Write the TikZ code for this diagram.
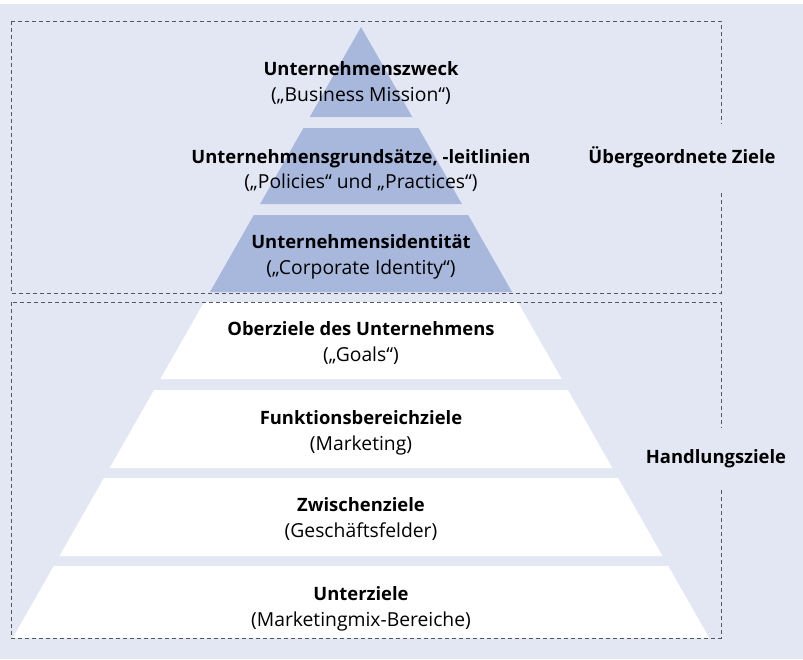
\documentclass[tikz,border=0pt]{standalone}
\usepackage{fontspec}
\setmainfont{Open Sans}
\definecolor{bgc}{RGB}{227,231,243}
\definecolor{bluec}{RGB}{168,184,220}
\definecolor{dashc}{RGB}{85,85,90}
\begin{document}
\begin{tikzpicture}[x=1pt,y=-1pt,
  ttl/.style={anchor=base,font=\fontsize{18.4}{22}\selectfont\bfseries,inner sep=0pt},
  sub/.style={anchor=base,font=\fontsize{19.3}{22}\selectfont,inner sep=0pt},
  side/.style={font=\fontsize{18.4}{22}\selectfont\bfseries,fill=bgc,inner xsep=2pt,inner ysep=22pt},
  frame/.style={draw=dashc,line width=0.9pt,dash pattern=on 4pt off 3pt}]
\useasboundingbox (0,0) rectangle (803,659);
\fill[white] (0,0) rectangle (803,659);
\fill[bgc] (0,4) rectangle (803,659);
% pyramid layers
\def\ax{361}\def\ay{27}\def\sl{0.57}
\fill[bluec] (\ax,\ay) -- ({\ax+\sl*(117-\ay)},117) -- ({\ax-\sl*(117-\ay)},117) -- cycle;
\foreach \t/\b/\c in {128/204/bluec,215/292/bluec,302/379/white,390/468/white,478/556/white,566/638/white}{
  \fill[\c] ({\ax-\sl*(\t-\ay)},\t) -- ({\ax+\sl*(\t-\ay)},\t) -- ({\ax+\sl*(\b-\ay)},\b) -- ({\ax-\sl*(\b-\ay)},\b) -- cycle;
}
% frames
\draw[frame] (11,21) rectangle (721,293);
\draw[frame] (11,302) rectangle (721,638);
% texts
\node[ttl] (t1) at (361,75.5) {Unternehmenszweck};
\node[sub] (s1) at (361,101.5) {(„Business Mission“)};
\node[ttl] (t2) at (361,163) {Unternehmensgrundsätze, -leitlinien};
\node[sub] (s2) at (361,188.5) {(„Policies“ und „Practices“)};
\node[ttl] (t3) at (361,248.5) {Unternehmensidentität};
\node[sub] (s3) at (361,274) {(„Corporate Identity“)};
\node[ttl] (t4) at (361,335.5) {Oberziele des Unternehmens};
\node[sub] (s4) at (361,361) {(„Goals“)};
\node[ttl] (t5) at (361,424.3) {Funktionsbereichziele};
\node[sub] (s5) at (361,450.7) {(Marketing)};
\node[ttl] (t6) at (361,511.5) {Zwischenziele};
\node[sub] (s6) at (361,537.5) {(Geschäftsfelder)};
\node[ttl] (t7) at (361,600) {Unterziele};
\node[sub] (s7) at (361,626) {(Marketingmix-Bereiche)};
\node[side] (ueb) at (682,157) {Übergeordnete Ziele};
\node[side] (hand) at (716,459) {Handlungsziele};
\end{tikzpicture}
\end{document}
